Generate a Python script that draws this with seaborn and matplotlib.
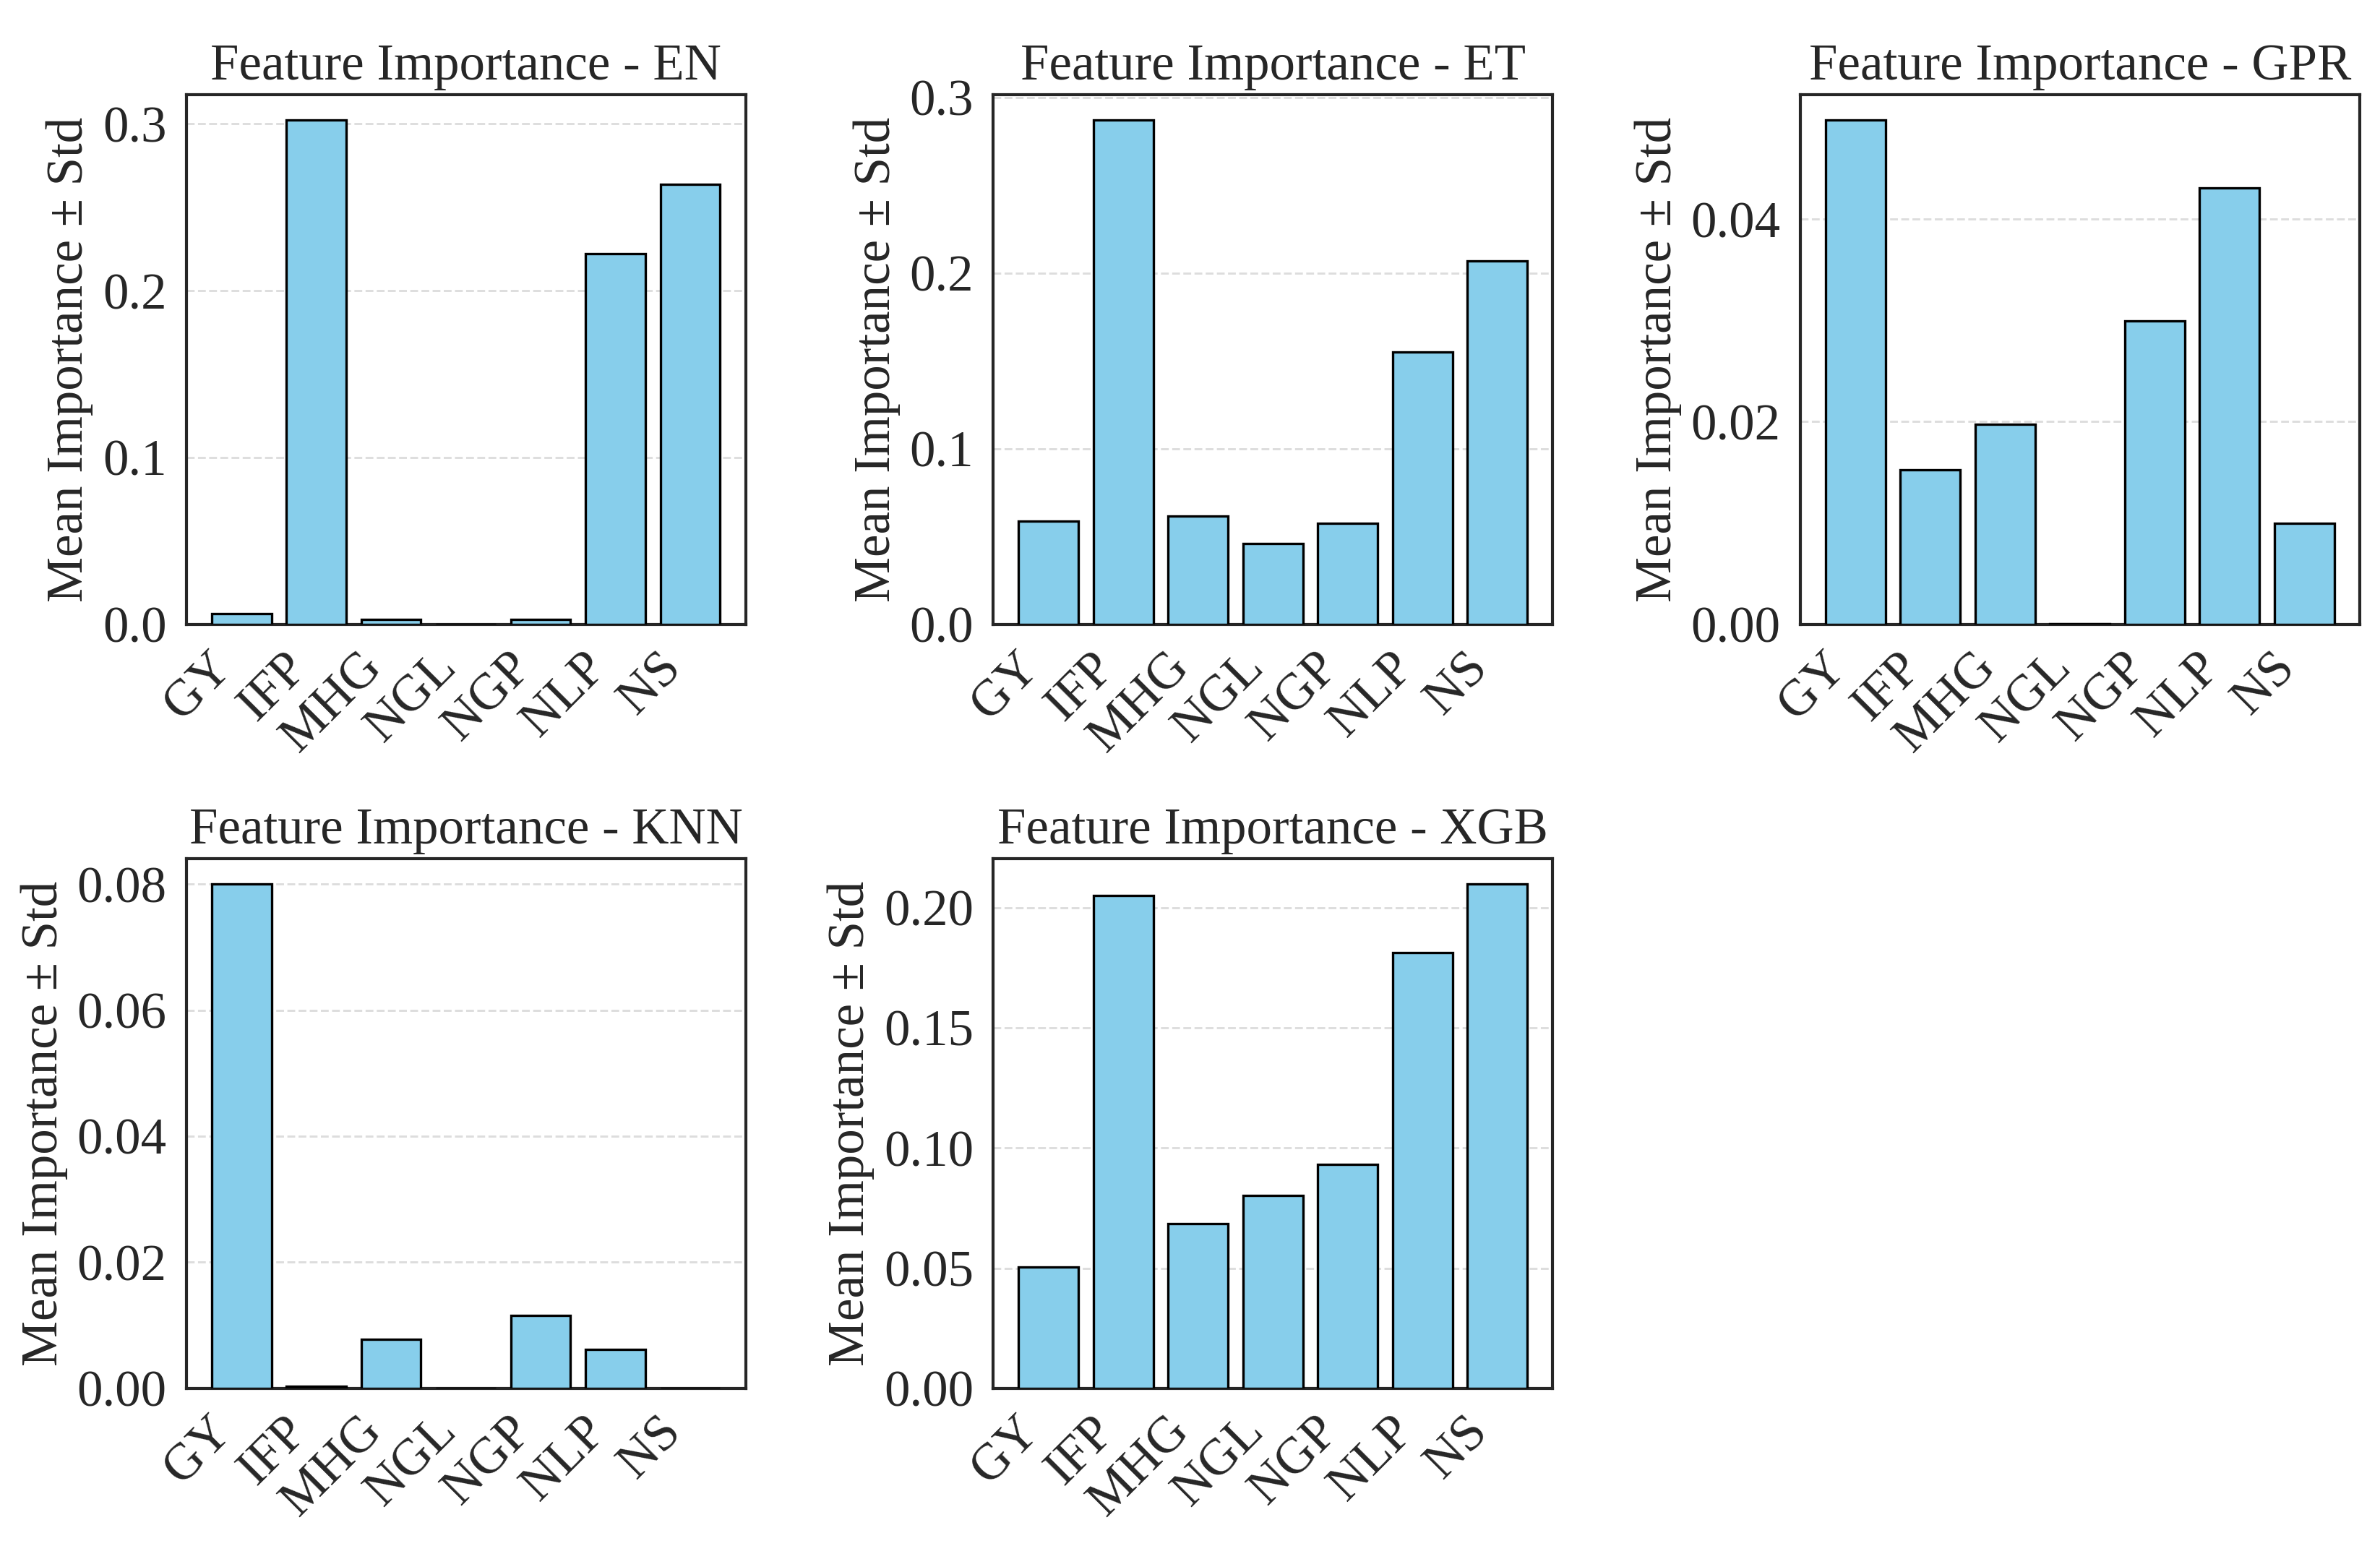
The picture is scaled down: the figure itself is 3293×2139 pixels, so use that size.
import matplotlib
matplotlib.use("Agg")
import matplotlib.pyplot as plt
import seaborn as sns
import pandas as pd

features = ["GY", "IFP", "MHG", "NGL", "NGP", "NLP", "NS"]

en_values = [0.0066, 0.3023, 0.0029, 0.0, 0.0031, 0.2224, 0.264]
et_values = [0.0588, 0.287, 0.0617, 0.0458, 0.0577, 0.155, 0.2069]
gpr_values = [0.04977, 0.01526, 0.01977, 0.00002, 0.02995, 0.0431, 0.00995]
knn_values = [0.0800, 0.0003, 0.00778, 0.0, 0.01151, 0.0062, 0.0]
xgb_values = [0.0504, 0.2049, 0.0684, 0.0802, 0.0931, 0.1812, 0.2098]

models = ["EN", "ET", "GPR", "KNN", "XGB"]
model_values = [en_values, et_values, gpr_values, knn_values, xgb_values]

FS = 17

sns.set_style("white")
plt.rcParams["font.family"] = ["Liberation Serif", "DejaVu Serif"]
plt.rcParams["font.size"] = FS
plt.rcParams["axes.edgecolor"] = "#262626"
plt.rcParams["axes.linewidth"] = 1.0
plt.rcParams["text.color"] = "#262626"
plt.rcParams["axes.labelcolor"] = "#262626"
plt.rcParams["xtick.color"] = "#262626"
plt.rcParams["ytick.color"] = "#262626"

fig, axes = plt.subplots(2, 3, figsize=(10.977, 7.13), dpi=300)
flat = axes.flatten()

for ax, name, vals in zip(flat, models, model_values):
    df = pd.DataFrame({"Feature": features, "Importance": vals})
    sns.barplot(data=df, x="Feature", y="Importance", color="skyblue",
                saturation=1, edgecolor="black", linewidth=0.8, width=0.8,
                ax=ax, zorder=3)
    n = len(features)
    pad = 0.05 * (n - 1 + 0.8)
    ax.set_xlim(-0.4 - pad, n - 1 + 0.4 + pad)
    ax.set_ylim(0, max(vals) * 1.05)
    ax.set_title(f"Feature Importance - {name}", fontsize=FS, pad=5)
    ax.set_xlabel("")
    ax.set_ylabel("Mean Importance ± Std", fontsize=FS, labelpad=3)
    ax.tick_params(axis="both", labelsize=FS, pad=3)
    for lab in ax.get_xticklabels():
        lab.set_rotation(45)
        lab.set_ha("right")
    ax.yaxis.grid(True, linestyle="--", color="#dddddd", linewidth=0.7, zorder=0)
    ax.set_axisbelow(True)
    for s in ax.spines.values():
        s.set_visible(True)

fig.delaxes(flat[5])
fig.tight_layout(pad=0.4, h_pad=0.9, w_pad=1.6, rect=(0, 0, 1, 0.985))
fig.savefig("out.png", dpi=300)
